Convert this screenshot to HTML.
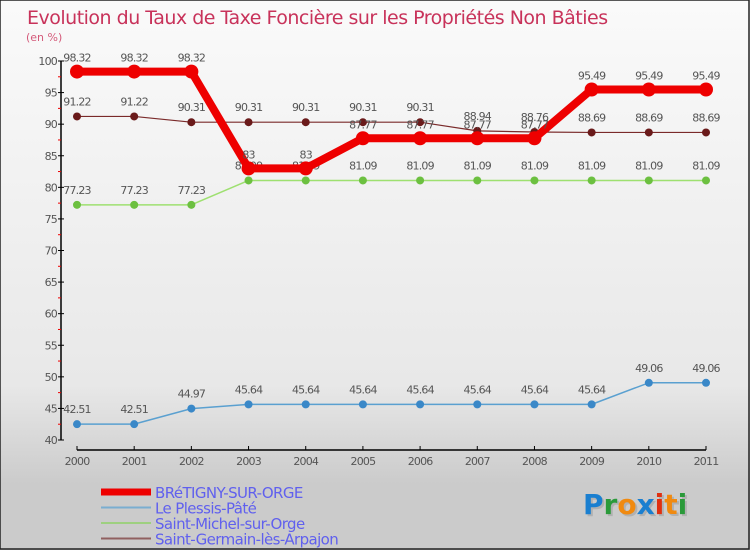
<!DOCTYPE html>
<html><head><meta charset="utf-8">
<style>
body{margin:0;}
#wrap{width:750px;height:550px;position:relative;overflow:hidden;background:linear-gradient(#fafafa,#e8e8e8 70%,#cbcbcb 88%,#cbcbcb);font-family:"DejaVu Sans","Liberation Sans",sans-serif;}
svg text{font-family:"DejaVu Sans","Liberation Sans",sans-serif;}
</style></head>
<body>
<div id="wrap">
<svg id="chart" width="750" height="550">
<rect x="0" y="0" width="749" height="549" fill="none" stroke="#222" stroke-width="1.5"/>
<text x="27" y="24" font-size="19" fill="#c8325a" letter-spacing="-0.5">Evolution du Taux de Taxe Foncière sur les Propriétés Non Bâties</text>
<text x="26" y="41" font-size="11" fill="#d45a7a">(en %)</text>
<g id="axes"></g>
<g id="series"></g>
<g id="legend"></g>
<text x="585" y="516" font-size="28" font-weight="bold" fill="#999" opacity="0.5">Proxiti</text>
<text x="583" y="514" font-size="28" font-weight="bold"><tspan fill="#1a7fd0">P</tspan><tspan fill="#2a9a3a">r</tspan><tspan fill="#f08a10">o</tspan><tspan fill="#1a7fd0">x</tspan><tspan fill="#e03010">i</tspan><tspan fill="#f08a10">t</tspan><tspan fill="#2a9a3a">i</tspan></text>
</svg>
</div>
<script>
const years=["2000","2001","2002","2003","2004","2005","2006","2007","2008","2009","2010","2011"];
const yTicks=[40,45,50,55,60,65,70,75,80,85,90,95,100];
const bretigny=[98.32,98.32,98.32,83,83,87.77,87.77,87.77,87.77,95.49,95.49,95.49];
const plessis=[42.51,42.51,44.97,45.64,45.64,45.64,45.64,45.64,45.64,45.64,49.06,49.06];
const michel=[77.23,77.23,77.23,81.09,81.09,81.09,81.09,81.09,81.09,81.09,81.09,81.09];
const germain=[91.22,91.22,90.31,90.31,90.31,90.31,90.31,88.94,88.76,88.69,88.69,88.69];
const seriesNames=["BRéTIGNY-SUR-ORGE","Le Plessis-Pâté","Saint-Michel-sur-Orge","Saint-Germain-lès-Arpajon"];

const NS="http://www.w3.org/2000/svg";
const xS=i=>77+i*(706-77)/11;
const yS=v=>440-(v-40)*(379/60);
function mk(tag,attrs,parent,txt){const e=document.createElementNS(NS,tag);for(const k in attrs)e.setAttribute(k,attrs[k]);if(txt!==undefined)e.textContent=txt;parent.appendChild(e);return e;}
const axes=document.getElementById('axes');
let yl=mk('line',{x1:61,y1:61,x2:61,y2:440,stroke:'#000','stroke-width':1.5},axes);


yTicks.forEach((t,i)=>{
  let l=mk('line',{x1:58,y1:yS(t),x2:64,y2:yS(t),stroke:'#000'},axes);
  
  
  let tx=mk('text',{x:57,y:yS(t)+4,'font-size':11,fill:'#555','text-anchor':'end','letter-spacing':'-0.8'},axes,String(t));
  
  
  if(i<yTicks.length-1){let m=mk('line',{x1:58,y1:yS(t+2.5),x2:61,y2:yS(t+2.5),stroke:'#e00'},axes);
  
  }
});
let xl=mk('line',{x1:xS(0),y1:450,x2:xS(11),y2:450,stroke:'#000','stroke-width':1.5},axes);


years.forEach((y,i)=>{
  let l=mk('line',{x1:xS(i),y1:446,x2:xS(i),y2:450,stroke:'#000'},axes);
  
  
  let tx=mk('text',{x:xS(i),y:465,'font-size':11,fill:'#555','text-anchor':'middle','letter-spacing':'-0.8'},axes,y);
  
  
});
const sg=document.getElementById('series');
function draw(vals,color,dot,lw,r,name,labelDy){
  const g=mk('g',{},sg);
  
  
  let pl=mk('polyline',{points:vals.map((v,i)=>xS(i)+','+yS(v)).join(' '),fill:'none',stroke:color,'stroke-width':lw,'stroke-linejoin':'round'},g);
  
  
  vals.forEach((v,i)=>{
    let c=mk('circle',{cx:xS(i),cy:yS(v),r:r,fill:dot},g);
    
    
    let t=mk('text',{x:xS(i),y:yS(v)+labelDy,'font-size':11,fill:'#555','text-anchor':'middle','letter-spacing':'-0.8'},g,String(v));
    
    
  });
}
draw(germain,'#7a2a2a','#6a1a1a',1.2,4,'saint-germain',-11);
draw(michel,'#9ee070','#6cc040',1.5,4,'saint-michel',-11);
draw(plessis,'#5aa0d0','#3a88c8',1.5,4,'le-plessis',-11);
draw(bretigny,'#ee0000','#ee0000',8,7,'bretigny',-10);
const lg=document.getElementById('legend');
const lcol=['#ee0000','#7aaed0','#9ed080','#906060'];
const lw=[7,2,2,2];
seriesNames.forEach((n,i)=>{
  const y=492+i*15.5;
  let l=mk('line',{x1:101,y1:y,x2:151,y2:y,stroke:lcol[i],'stroke-width':lw[i]},lg);
  
  
  let t=mk('text',{x:155,y:y+6,'font-size':15,fill:'#6060ee','letter-spacing':'-0.6'},lg,n);
  
  
});
</script>
</body></html>
